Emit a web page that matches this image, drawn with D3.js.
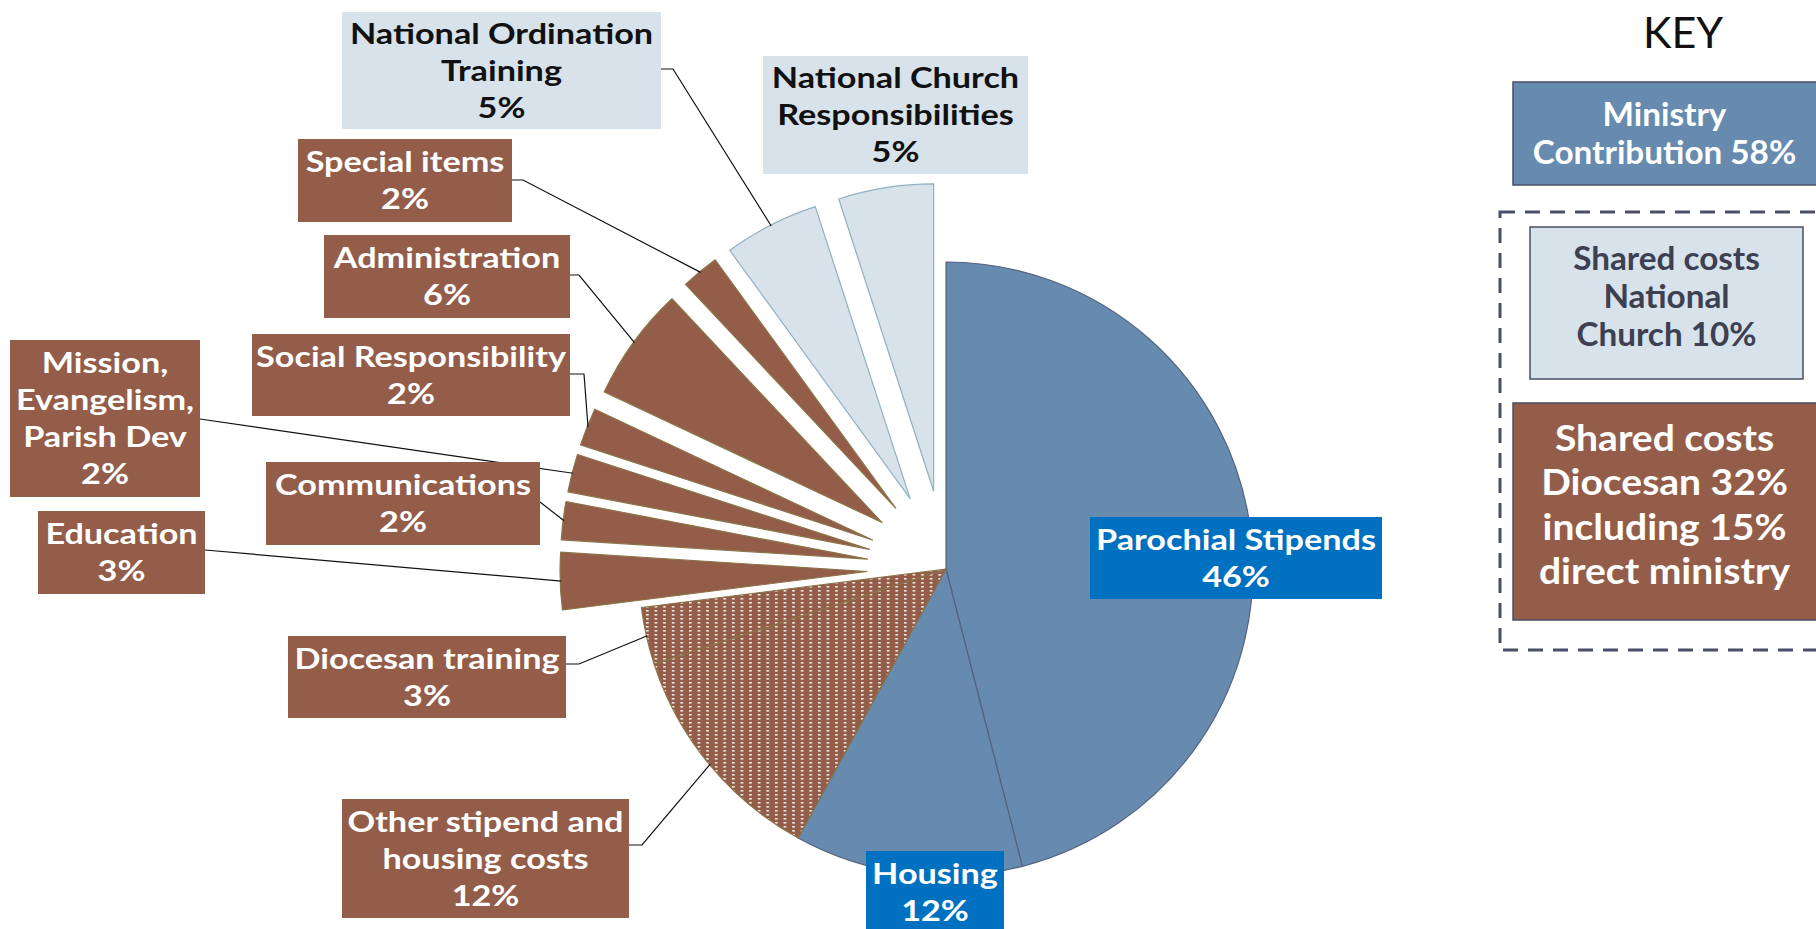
<!DOCTYPE html>
<html>
<head>
<meta charset="utf-8">
<script src="https://cdn.jsdelivr.net/npm/d3@7"></script>
<style>
  html, body { margin: 0; padding: 0; background: #fff; }
  svg { display: block; }
  text { font-family: Lato, "Open Sans", sans-serif; }
</style>
</head>
<body>
<svg id="chart" width="1816" height="929"></svg>
<script>
// Diocesan budget split, percent of total
const categories = [
  "Parochial Stipends", "Housing", "Other stipend and housing costs",
  "Diocesan training", "Education", "Communications",
  "Mission, Evangelism, Parish Dev", "Social Responsibility", "Administration",
  "Special items", "National Ordination Training", "National Church Responsibilities"
];
const shares = [46, 12, 12, 3, 3, 2, 2, 2, 6, 2, 5, 5];
const groups = [
  "ministry", "ministry", "diocesanDirect", "diocesanDirect", "diocesan", "diocesan",
  "diocesan", "diocesan", "diocesan", "diocesan", "national", "national"
];
const labelLines = [
  ["Parochial Stipends"], ["Housing"], ["Other stipend and", "housing costs"],
  ["Diocesan training"], ["Education"], ["Communications"],
  ["Mission,", "Evangelism,", "Parish Dev"], ["Social Responsibility"], ["Administration"],
  ["Special items"], ["National Ordination", "Training"], ["National Church", "Responsibilities"]
];
const keyTitle = "KEY";
const keyGroups = ["ministry", "national", "diocesan"];
const keyLines = [
  ["Ministry", "Contribution 58%"],
  ["Shared costs", "National", "Church 10%"],
  ["Shared costs", "Diocesan 32%", "including 15%", "direct ministry"]
];

// ---- styling and layout ----
const colors = {
  ministry: "#668bae", diocesan: "#935d4a", diocesanDirect: "url(#dots)", national: "#d7e2eb"
};
const strokes = {
  ministry: "#56627e", diocesan: "#8a7448", diocesanDirect: "#8a7448", national: "#8fb0c0"
};
const labelFill = { ministry: "#0070c0", diocesan: "#935d4a", diocesanDirect: "#935d4a", national: "#d7e2eb" };
const labelText = { ministry: "#ffffff", diocesan: "#ffffff", diocesanDirect: "#ffffff", national: "#111111" };

const cx = 946, cy = 569, radius = 307, explodeBy = 79;
const explodedFrom = 4; // slices after the direct-ministry ones are pulled out
const labelFont = { size: 28.5, stretch: 1.2, lineHeight: 37 };

// label boxes [x, y, w, h]; optional leader start point and elbow length
const labelLayout = [
  { box: [1090, 517, 292, 82] },
  { box: [866, 851, 138, 82] },
  { box: [342, 799, 287, 119], from: [629, 845], elbow: 13 },
  { box: [288, 636, 278, 82], from: [566, 664], elbow: 13 },
  { box: [38, 511, 167, 83], from: [205, 550], elbow: 0 },
  { box: [266, 462, 274, 83], from: [540, 502], elbow: 0 },
  { box: [10, 340, 190, 157], from: [200, 419], elbow: 0 },
  { box: [252, 334, 318, 82], from: [570, 374], elbow: 14 },
  { box: [324, 235, 246, 83], from: [570, 275], elbow: 9 },
  { box: [298, 139, 214, 83], from: [512, 180], elbow: 11 },
  { box: [342, 12, 319, 117], from: [661, 69], elbow: 12 },
  { box: [763, 56, 265, 118] }
];

const svg = d3.select("#chart");
svg.append("rect").attr("width", 1816).attr("height", 929).attr("fill", "#fff");

const defs = svg.append("defs");
const pat = defs.append("pattern").attr("id", "dots")
  .attr("patternUnits", "userSpaceOnUse").attr("width", 8.6).attr("height", 4);
pat.append("rect").attr("width", 8.6).attr("height", 4).attr("fill", "#935d4a");
pat.append("rect").attr("x", 1).attr("y", 1).attr("width", 2.6).attr("height", 1.6).attr("fill", "#f4eee8");

const data = categories.map((c, i) => ({ name: c, value: shares[i], group: groups[i], idx: i }));
const pie = d3.pie().sort(null).value(d => d.value).startAngle(0).endAngle(2 * Math.PI);
const arcs = pie(data);
const arc = d3.arc().innerRadius(0).outerRadius(radius);

function offsetOf(a) {
  if (a.data.idx < explodedFrom) return [0, 0];
  const m = (a.startAngle + a.endAngle) / 2;
  return [Math.sin(m) * explodeBy, -Math.cos(m) * explodeBy];
}

const pieG = svg.append("g").attr("transform", `translate(${cx},${cy})`);
pieG.selectAll("path.slice").data(arcs).join("path")
  .attr("class", "slice")
  .attr("transform", d => { const o = offsetOf(d); return `translate(${o[0]},${o[1]})`; })
  .attr("d", arc)
  .attr("fill", d => colors[d.data.group])
  .attr("stroke", d => strokes[d.data.group])
  .attr("stroke-width", 1.2)
  .attr("stroke-linejoin", "round");

// leader lines from label boxes to the outer middle of each slice
const leaders = svg.append("g").attr("fill", "none").attr("stroke", "#111").attr("stroke-width", 1.2);
arcs.forEach((a, i) => {
  const L = labelLayout[i];
  if (!L.from) return;
  const m = (a.startAngle + a.endAngle) / 2;
  const o = offsetOf(a);
  const ex = cx + o[0] + Math.sin(m) * (radius - 1);
  const ey = cy + o[1] - Math.cos(m) * (radius - 1);
  const pts = [L.from];
  if (L.elbow) pts.push([L.from[0] + L.elbow, L.from[1]]);
  pts.push([ex, ey]);
  leaders.append("path").attr("d", d3.line()(pts));
});

// centred, horizontally widened text line
function stretchedText(g, x, y, str, size, stretch, color) {
  g.append("text")
    .attr("transform", `translate(${x},${y}) scale(${stretch},1)`)
    .attr("text-anchor", "middle")
    .attr("font-size", size).attr("font-weight", 700)
    .attr("fill", color)
    .text(str);
}

// labels
const labelG = svg.append("g");
arcs.forEach((a, i) => {
  const L = labelLayout[i];
  const [x, y, w, h] = L.box;
  const g = labelG.append("g");
  g.append("rect").attr("x", x).attr("y", y).attr("width", w).attr("height", h)
    .attr("fill", labelFill[a.data.group]);
  const lines = labelLines[i].concat([`${a.data.value}%`]);
  const midY = y + h / 2;
  lines.forEach((t, k) => {
    stretchedText(g, x + w / 2,
      midY + (k - (lines.length - 1) / 2) * labelFont.lineHeight + 10,
      t, labelFont.size, labelFont.stretch, labelText[a.data.group]);
  });
});

// key
const keyG = svg.append("g");
keyG.append("text").attr("x", 1683).attr("y", 48).attr("text-anchor", "middle")
  .attr("font-size", 43).attr("fill", "#111").text(keyTitle);

keyG.append("rect").attr("x", 1500).attr("y", 212).attr("width", 340).attr("height", 438)
  .attr("fill", "none").attr("stroke", "#4b5068").attr("stroke-width", 3)
  .attr("stroke-dasharray", "15 10");

const keyBoxes = [
  { box: [1513, 82, 320, 103], size: 32, stretch: 1.04, lh: 38, dy: 0, color: "#ffffff" },
  { box: [1530, 227, 273, 152], size: 32, stretch: 1.04, lh: 38, dy: -7, color: "#3d4050" },
  { box: [1513, 403, 320, 217], size: 36.5, stretch: 1.07, lh: 44.5, dy: -7, color: "#ffffff" }
];
keyBoxes.forEach((K, i) => {
  const [x, y, w, h] = K.box;
  const g = keyG.append("g");
  g.append("rect").attr("x", x).attr("y", y).attr("width", w).attr("height", h)
    .attr("fill", colors[keyGroups[i]]).attr("stroke", "#4a4f63").attr("stroke-width", 1.5);
  const visibleW = Math.min(x + w, 1816) - x;
  const lines = keyLines[i];
  lines.forEach((t, k) => {
    stretchedText(g, x + visibleW / 2,
      y + h / 2 + (k - (lines.length - 1) / 2) * K.lh + K.size * 0.36 + K.dy,
      t, K.size, K.stretch, K.color);
  });
});
</script>
</body>
</html>
